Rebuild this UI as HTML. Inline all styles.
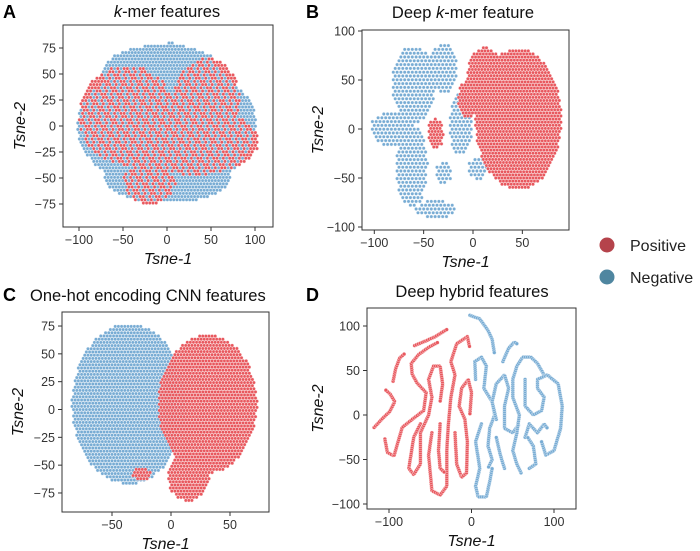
<!DOCTYPE html>
<html><head><meta charset="utf-8"><style>
body{margin:0;background:#fff;}
svg{display:block;font-family:"Liberation Sans",sans-serif;}
</style></head><body>
<svg id="fig" width="700" height="551" viewBox="0 0 700 551">
<g id="layer"></g>
<g>
  <circle cx="607" cy="245" r="7.5" fill="#b5434b"/>
  <text x="630" y="251" font-size="16" fill="#222">Positive</text>
  <circle cx="607" cy="277" r="7.5" fill="#4f86a0"/>
  <text x="630" y="283" font-size="16" fill="#222">Negative</text>
</g>
</svg>
<script>
// ---------- data (data units) ----------
// blobs: [cx, cy, rx, ry]
const aNegBlobs = [[0,0,102,62],[-5,50,70,28],[0,-50,72,24],[5,70,20,10]];
const aPosBlobs = [[-45,10,55,48],[45,25,38,40],[30,-15,74,32],[-20,-55,30,20]];
const bNegBlobs = [[-60,45,22,40],[-82,0,22,18],[-62,-38,16,42],[-38,-82,20,9],[-30,62,14,26],[-12,5,12,32],[-30,-45,8,12],[5,-40,10,12]];
const bPosBlobs = [[46,10,44,72],[12,55,18,28],[-38,-5,8,16],[-5,30,10,20]];
const cNegBlobs = [[-36,5,48,72]];
const cPosBlobs = [[31,5,42,62],[15,-60,18,22],[-25,-58,8,6]];
const dPosCurves = [
 [[-118,-14],[-108,-4],[-99,4],[-93,15],[-99,24],[-104,28]],
 [[-95,38],[-92,52],[-87,64],[-81,69]],
 [[-69,78],[-56,83],[-44,88],[-30,96]],
 [[-105,-27],[-102,-42],[-94,-46],[-89,-30],[-84,-14],[-72,-5],[-58,5],[-55,25],[-66,36],[-72,46],[-73,58],[-64,68],[-52,76],[-40,82]],
 [[-62,-10],[-70,-25],[-76,-60],[-70,-67],[-62,-55],[-62,-20],[-52,0],[-48,20],[-52,40],[-46,55],[-38,55],[-35,35],[-38,15]],
 [[-48,-20],[-52,-45],[-48,-85],[-38,-90],[-30,-80],[-30,-40],[-28,-10],[-25,20],[-20,45],[-25,60],[-18,80],[-5,88],[-2,75]],
 [[-38,-10],[-40,-40],[-38,-60],[-32,-65]],
 [[-20,-20],[-18,-55],[-12,-70],[-6,-65],[-5,-30],[-8,-5],[-15,10],[-12,30],[-4,40],[0,25],[-2,0]]
];
const dNegCurves = [
 [[-2,112],[10,108],[20,95],[25,85],[28,68]],
 [[38,60],[45,75],[52,82],[55,80]],
 [[5,40],[4,60],[12,65],[18,55],[15,30],[25,15],[28,0],[22,-15],[20,-35],[25,-50],[20,-60]],
 [[12,-10],[5,-30],[10,-60],[5,-80],[8,-92],[18,-92],[22,-75],[25,-60]],
 [[30,-5],[25,15],[30,35],[40,45],[45,30],[40,10],[40,-15],[50,-20],[58,-10]],
 [[40,-60],[35,-45],[30,-25]],
 [[60,-65],[55,-55],[50,-40],[55,-20],[58,0],[50,20],[50,40],[55,55],[62,65],[72,65],[80,58],[88,45]],
 [[65,40],[65,10],[75,0],[85,5],[88,20],[80,30],[80,40],[92,45],[105,35],[110,10],[108,-15],[100,-40],[90,-45],[85,-30]],
 [[65,-25],[70,-10],[80,-20],[88,-10],[92,-15]],
 [[70,-60],[78,-55],[75,-35],[68,-25]]
];
const aXTicks = [-100,-50,0,50,100], aYTicks = [-75,-50,-25,0,25,50,75];
const bXTicks = [-100,-50,0,50], bYTicks = [-100,-50,0,50,100];
const cXTicks = [-50,0,50], cYTicks = [-75,-50,-25,0,25,50,75];
const dXTicks = [-100,0,100], dYTicks = [-100,-50,0,50,100];

const NS = "http://www.w3.org/2000/svg";
const layer = document.getElementById('layer');
const POS = "#e8585e", NEG = "#78acd4";
function mk(tag, attrs, parent){ const e=document.createElementNS(NS,tag); for(const k in attrs) e.setAttribute(k,attrs[k]); (parent||layer).appendChild(e); return e; }

function panel(cfg){
  const g = mk('g',{});
  
  
  const sx = v => cfg.x0 + v*cfg.kx, sy = v => cfg.y0 - v*cfg.ky;
  const pts = mk('g',{},g);
  
  
  function dot(px,py,col,r){
    const c = mk('circle',{cx:px.toFixed(1),cy:py.toFixed(1),r:r||1.7,fill:col,stroke:'#fff','stroke-width':0.35},pts);
    
    
  }
  function inside(blobs,px,py){
    const vx=(px-cfg.x0)/cfg.kx, vy=(cfg.y0-py)/cfg.ky;
    return blobs.some(b=>{const dx=(vx-b[0])/b[2], dy=(vy-b[1])/b[3]; return dx*dx+dy*dy<=1;});
  }
  function fillBlobs(blobs,col,step,off){
    const done = new Set();
    blobs.forEach(b=>{
      const left=sx(b[0]-b[2]), right=sx(b[0]+b[2]), top=sy(b[1]+b[3]), bot=sy(b[1]-b[3]);
      for(let py=Math.floor(top/step)*step+off; py<=bot; py+=step){
        const shift = (Math.round(py/step)%2)*step/2;
        for(let px=Math.floor(left/step)*step+off+shift; px<=right; px+=step){
          const dx=((px-cfg.x0)/cfg.kx-b[0])/b[2], dy=((cfg.y0-py)/cfg.ky-b[1])/b[3];
          if(dx*dx+dy*dy<=1){ const key=px.toFixed(1)+','+py.toFixed(1); if(!done.has(key)){done.add(key); dot(px,py,col);} }
        }
      }
    });
  }
  function fillMixed(neg,pos,step){
    for(let j=0, py=cfg.by0+2; py<cfg.by1-1; py+=step, j++){
      const shift=(j%2)*step/2;
      for(let i=0, px=cfg.bx0+2+shift; px<cfg.bx1-1; px+=step, i++){
        const n=inside(neg,px,py), p=inside(pos,px,py);
        if(n&&p) dot(px,py,((i*7+j*3)%5<3)?POS:NEG);
        else if(p) dot(px,py,POS);
        else if(n) dot(px,py,NEG);
      }
    }
  }
  function curves(list,col){
    list.forEach(c=>{
      let carry=0;
      for(let i=0;i<c.length-1;i++){
        const x1=sx(c[i][0]),y1=sy(c[i][1]),x2=sx(c[i+1][0]),y2=sy(c[i+1][1]);
        const L=Math.hypot(x2-x1,y2-y1);
        let t=carry; for(; t<=L; t+=2.0){ dot(x1+(x2-x1)*t/L, y1+(y2-y1)*t/L, col, 1.9); }
        carry=t-L;
      }
    });
  }
  if(cfg.mixed) fillMixed(cfg.negBlobs,cfg.posBlobs,3.2);
  else {
    if(cfg.negBlobs) fillBlobs(cfg.negBlobs,NEG,cfg.negStep,0);
    if(cfg.posBlobs) fillBlobs(cfg.posBlobs,POS,cfg.posStep,1.3);
  }
  if(cfg.posCurves) curves(cfg.posCurves,POS);
  if(cfg.negCurves) curves(cfg.negCurves,NEG);
  const fr = mk('rect',{x:cfg.bx0,y:cfg.by0,width:cfg.bx1-cfg.bx0,height:cfg.by1-cfg.by0,fill:'none',stroke:'#333','stroke-width':1},g);
  
  
  cfg.xt.forEach(v=>{
    const x=sx(v);
    mk('line',{x1:x,x2:x,y1:cfg.by1,y2:cfg.by1+4,stroke:'#333'},g);
    const t=mk('text',{x:x,y:cfg.by1+17,'text-anchor':'middle','font-size':12.5,fill:'#333'},g);
    t.textContent = v<0 ? '\u2212'+(-v) : String(v);
    
    
  });
  cfg.yt.forEach(v=>{
    const y=sy(v);
    mk('line',{x1:cfg.bx0-4,x2:cfg.bx0,y1:y,y2:y,stroke:'#333'},g);
    const t=mk('text',{x:cfg.bx0-7,y:y+4.5,'text-anchor':'end','font-size':12.5,fill:'#333'},g);
    t.textContent = v<0 ? '\u2212'+(-v) : String(v);
    
    
  });
  const xl=mk('text',{x:(cfg.bx0+cfg.bx1)/2,y:cfg.by1+37,'text-anchor':'middle','font-size':16,'font-style':'italic',fill:'#111'},g);
  xl.textContent='Tsne-1';
  
  
  const yc=(cfg.by0+cfg.by1)/2;
  const yl=mk('text',{x:cfg.ylx,y:yc,'text-anchor':'middle','font-size':16,'font-style':'italic',fill:'#111',transform:`rotate(-90 ${cfg.ylx} ${yc})`},g);
  yl.textContent='Tsne-2';
  
  
  const L=mk('text',{x:cfg.lx,y:cfg.ly,'font-size':18,'font-weight':'bold',fill:'#000'},g);
  L.textContent=cfg.id;
  
  
  const T=mk('text',{x:cfg.tx,y:cfg.ty,'text-anchor':cfg.ta||'middle','font-size':16.5,fill:'#111'},g);
  T.innerHTML=cfg.title;
  
  
}

panel({id:'A',x0:167,y0:126,kx:0.88,ky:1.04,bx0:63,bx1:273,by0:25,by1:227,xt:aXTicks,yt:aYTicks,mixed:true,
  negBlobs:aNegBlobs,posBlobs:aPosBlobs,ylx:25,lx:3,ly:18,tx:167,ty:17,
  title:'<tspan font-style="italic">k</tspan>-mer features'});
panel({id:'B',x0:473,y0:129,kx:0.987,ky:0.98,bx0:362,bx1:569,by0:30,by1:230,xt:bXTicks,yt:bYTicks,
  negBlobs:bNegBlobs,posBlobs:bPosBlobs,negStep:3.8,posStep:3.1,ylx:323,lx:306,ly:18,tx:463,ty:18,
  title:'Deep <tspan font-style="italic">k</tspan>-mer feature'});
panel({id:'C',x0:171,y0:409.5,kx:1.18,ky:1.113,bx0:62,bx1:269,by0:312,by1:512,xt:cXTicks,yt:cYTicks,
  negBlobs:cNegBlobs,posBlobs:cPosBlobs,negStep:3.2,posStep:3.1,ylx:23,lx:3,ly:301,tx:30,ty:301,ta:'start',
  title:'One-hot encoding CNN features'});
panel({id:'D',x0:471.5,y0:415,kx:0.825,ky:0.89,bx0:367,bx1:576,by0:308,by1:509,xt:dXTicks,yt:dYTicks,
  posCurves:dPosCurves,negCurves:dNegCurves,ylx:323,lx:306,ly:301,tx:472,ty:297,
  title:'Deep hybrid features'});
</script>
</body></html>
